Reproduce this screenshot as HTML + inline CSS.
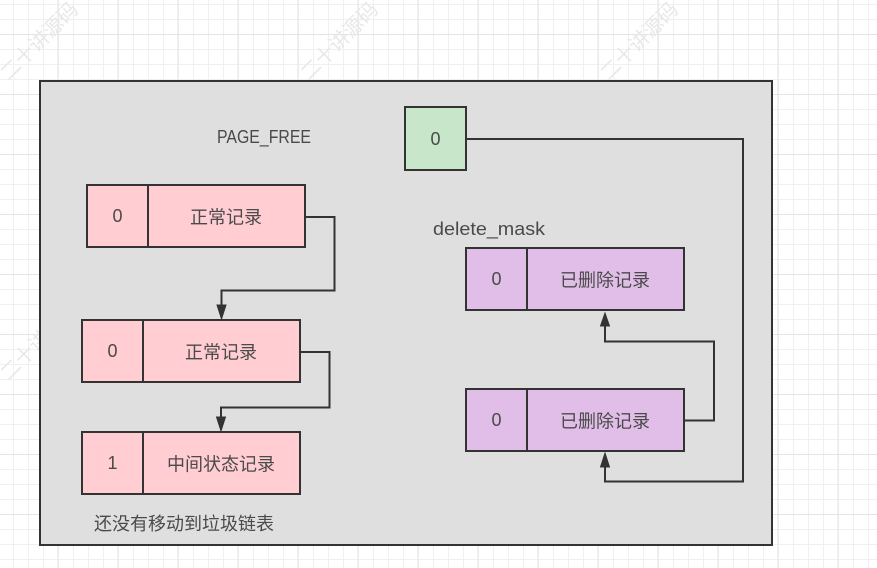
<!DOCTYPE html>
<html><head><meta charset="utf-8">
<style>
html,body{margin:0;padding:0;background:#fff;width:877px;height:568px;overflow:hidden}
svg{display:block}
text{font-family:"Liberation Sans","Noto Sans CJK SC",sans-serif;font-size:18px;fill:#4a4a4a;text-anchor:middle}
.b{stroke:#333;stroke-width:2;shape-rendering:crispEdges}
.l{fill:none;stroke:#333;stroke-width:2}
.a{fill:#333;stroke:#333}
.w{font-size:20px;fill:#e8e8e8;stroke:none}
</style></head><body>
<svg width="877" height="568" viewBox="0 0 877 568" xmlns="http://www.w3.org/2000/svg">
<defs>
<pattern id="g" x="-2" y="4" width="60" height="60" patternUnits="userSpaceOnUse">
<path d="M0 .5H60M0 15.5H60M0 45.5H60M.5 0V60M15.5 0V60M30.5 0V60M45.5 0V60" stroke="#f0f0f0" fill="none"/>
<path d="M0 30.5H60M60 0V60M0 0V60" stroke="#e4e4e4" fill="none"/>
</pattern>
</defs>
<rect width="877" height="568" fill="url(#g)"/>
<text class="w" transform="translate(39,41) rotate(-45)" y="7">二十讲源码</text>
<text class="w" transform="translate(339,41) rotate(-45)" y="7">二十讲源码</text>
<text class="w" transform="translate(639,41) rotate(-45)" y="7">二十讲源码</text>
<text class="w" transform="translate(39,341) rotate(-45)" y="7">二十讲源码</text>

<rect class="b" x="40" y="81" width="732" height="464" fill="#dfdfdf"/>

<rect class="b" x="405" y="107" width="61" height="63" fill="#c8e6c9"/>
<text x="435.500" y="145">0</text>
<text x="264" y="143" textLength="94" lengthAdjust="spacingAndGlyphs">PAGE_FREE</text>
<text x="489" y="235" textLength="112" lengthAdjust="spacingAndGlyphs">delete_mask</text>

<rect class="b" x="87" y="185" width="218" height="62" fill="#ffcdd2"/>
<path class="b" d="M148 185V247"/>
<text x="117.500" y="222">0</text>
<text x="226" y="223.500">正常记录</text>

<rect class="b" x="82" y="320" width="218" height="62" fill="#ffcdd2"/>
<path class="b" d="M143 320V382"/>
<text x="112.500" y="357">0</text>
<text x="221" y="358.500">正常记录</text>

<rect class="b" x="82" y="432" width="218" height="62" fill="#ffcdd2"/>
<path class="b" d="M143 432V494"/>
<text x="112.500" y="469">1</text>
<text x="221" y="470.500">中间状态记录</text>

<rect class="b" x="466" y="248" width="218" height="62" fill="#e1bee7"/>
<path class="b" d="M527 248V310"/>
<text x="496.500" y="285">0</text>
<text x="605" y="286.500">已删除记录</text>

<rect class="b" x="466" y="389" width="218" height="62" fill="#e1bee7"/>
<path class="b" d="M527 389V451"/>
<text x="496.500" y="426">0</text>
<text x="605" y="427.500">已删除记录</text>

<text x="184" y="530">还没有移动到垃圾链表</text>

<path class="l" d="M305 217H334.500V290.500H221.500V306"/>
<path class="a" d="M221.500 319L217 305H226Z"/>
<path class="l" d="M300 352H329.500V407.500H221V419"/>
<path class="a" d="M221 431L216.500 417H225.500Z"/>
<path class="l" d="M684 420.500H714V341.500H605V326"/>
<path class="a" d="M605 313L600.500 326H609.500Z"/>
<path class="l" d="M466 139H743V481.500H605V467"/>
<path class="a" d="M605 453L600.500 467H609.500Z"/>
</svg>
</body></html>
